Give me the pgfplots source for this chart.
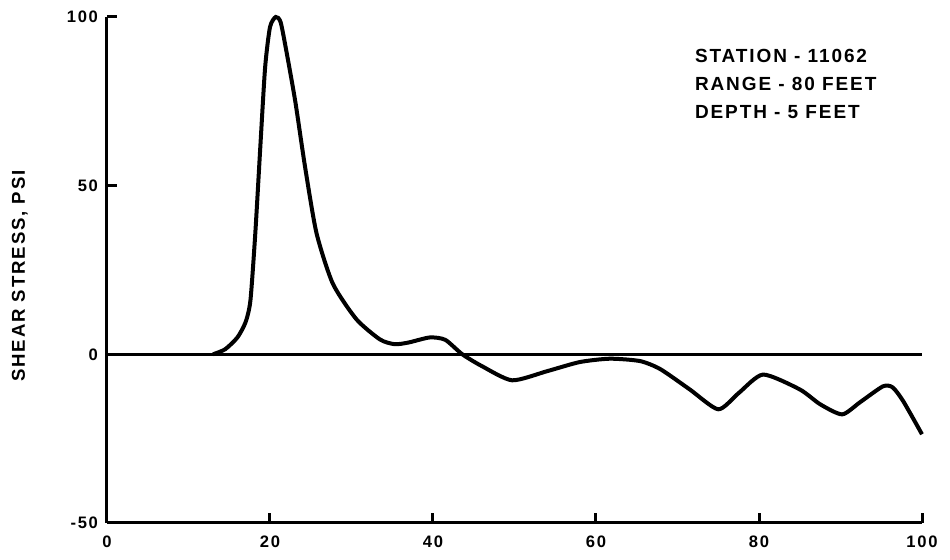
\documentclass[border=0pt]{standalone}
\usepackage{fontspec}
\setmainfont{Liberation Sans}[LetterSpace=10]
\usepackage{pgfplots}
\pgfplotsset{compat=1.18}
\begin{document}
\begin{tikzpicture}
\useasboundingbox (-53.5pt,-18.5pt) rectangle (421.5pt,261.5pt);
\begin{axis}[
  at={(0,0)}, anchor=south west,
  scale only axis, width=407.5pt, height=253pt,
  xmin=0, xmax=100, ymin=-50, ymax=100,
  axis x line=bottom, axis y line=left,
  axis line style={-, line width=1.5pt},
  tick align=inside,
  major tick length=5pt,
  every tick/.style={black, line width=1.5pt},
  xtick={0,20,40,60,80,100},
  xticklabels={0,20,40,60,80,100},
  ytick={-50,0,50,100},
  yticklabels={-50,0,50,100},
  tick label style={font=\fontsize{8.3}{9}\selectfont\bfseries},
  yticklabel style={xshift=-1pt},
  xticklabel style={yshift=-3pt},
  ylabel={SHEAR STRESS, PSI},
  ylabel style={at={(axis description cs:-0.107,0.488)}, anchor=center, font=\fontsize{9.3}{10}\selectfont\bfseries},
  clip=false,
]
\addplot[black, line width=1.5pt] coordinates {(0,0) (100,0)};
\addplot[black, line width=2pt, smooth, tension=0.4] coordinates {
(13,0) (14.5,1.5) (16,5) (17,9.5) (17.6,16) (18.2,36) (18.8,61) (19.4,85) (20,97) (20.7,100) (21.3,98.5) (22,90) (23.1,75) (24.3,55.6) (25.7,36) (27.7,21) (30.6,10.4) (33.5,4.4) (35.3,3) (37,3.5) (39.6,5) (41.5,4.3) (43.6,0) (46,-3.5) (49.7,-7.7) (54,-5) (58,-2.3) (61.7,-1.3) (65.4,-2) (67.9,-4.4) (71.5,-10.4) (75,-16.3) (77.5,-11.5) (80.5,-6) (85,-10.4) (87.5,-14.8) (90.2,-17.8) (92.4,-14.2) (95.2,-9.5) (96.4,-9.8) (97.7,-13.9) (100,-23.7)};
\node[anchor=north west, align=left, inner sep=0pt, font=\fontsize{9.5}{14}\selectfont\bfseries] at (axis cs:72.1,90.5) {STATION - 11062\\RANGE - 80 FEET\\DEPTH - 5 FEET};
\end{axis}
\end{tikzpicture}
\end{document}
